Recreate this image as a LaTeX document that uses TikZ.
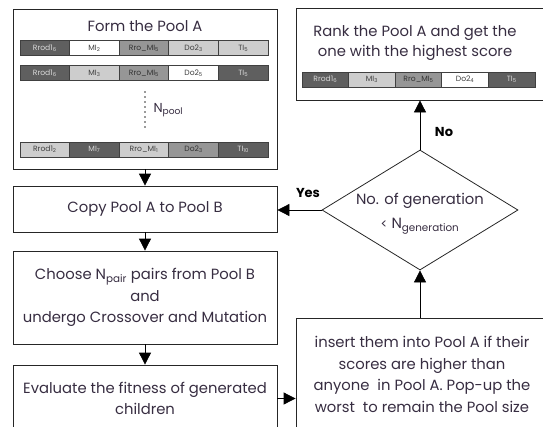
\documentclass[tikz,border=0pt]{standalone}
\usepackage{fontspec}
\setmainfont{Poppins}
\usepackage{xcolor}
\usetikzlibrary{arrows.meta,shapes.geometric}
\definecolor{ink}{RGB}{55,45,65}
\definecolor{genedark}{RGB}{95,95,95}
\definecolor{genemid}{RGB}{150,150,150}
\definecolor{genelight}{RGB}{205,205,205}
\tikzset{
	stage/.style={draw=black!85, line width=0.8pt, text=ink, align=center,
			font=\fontsize{14.8}{21.5}\selectfont, inner sep=0pt},
	gene/.style={draw=black!75, line width=0.9pt, inner sep=0pt,
			font=\fontsize{7.6}{8}\selectfont},
	flow/.style={draw=black, line width=0.8pt, -{Triangle[length=12pt,width=12pt]}},
	answer/.style={font=\fontsize{13}{15}\selectfont\bfseries}
}

\begin{document}
\begin{tikzpicture}[x=1pt,y=-1pt]
        \useasboundingbox (0,0) rectangle (543,426);

        % Boxes of the left column
        \node[stage, minimum width=264pt, minimum height=160pt] (form) at (145,89) {};
        \node[stage, minimum width=264pt, minimum height=46pt] (copy) at (145,209) {Copy Pool A to Pool B};
        \node[stage, minimum width=264pt, minimum height=93pt] (choose) at (145,297.5)
            {Choose N\textsubscript{pair} pairs from Pool B\\and\\undergo Crossover and Mutation};
        \node[stage, minimum width=264pt, minimum height=67pt] (eval) at (145,398.5)
            {Evaluate the fitness of generated\\children};

        % Boxes of the right column
        \node[stage, minimum width=264pt, minimum height=92pt] (rank) at (428,54) {};
        \node[stage, minimum width=252pt, minimum height=113pt] (insert) at (422,374.5)
            {insert them into Pool A if their\\scores are higher than\\anyone\ \ in Pool A. Pop-up the\\worst\ \ to remain the Pool size};
        \node[draw=black!85, line width=0.8pt, diamond, minimum width=196pt,
            minimum height=120pt, inner sep=0pt] (cond) at (420,210) {};

        % Texts inside the boxes
        \node[text=ink, font=\fontsize{14.8}{21.5}\selectfont] (formtxt) at (145,26) {Form the Pool A};
        \node[text=ink, align=center, font=\fontsize{14.8}{20}\selectfont] (ranktxt) at (415,43)
            {Rank the Pool A and get the\\one with the highest score};
        \node[text=ink, align=center, font=\fontsize{14.8}{24}\selectfont] (condtxt) at (420,214)
            {No. of generation\\{\fontsize{12.5}{13}\selectfont<} N\textsubscript{generation}};

        % Individuals of Pool A
        \foreach \lab/\fc/\tc [count=\i] in {Rrod1\textsubscript{6}/genedark/white!85!black,
                MI\textsubscript{2}/white/black!75, Rro\_MI\textsubscript{5}/genemid/black!80,
                Do2\textsubscript{3}/genelight/black!75, TI\textsubscript{5}/genelight/black!75} {
            \node[gene, fill=\fc, text=\tc, minimum width=49.6pt, minimum height=15pt]
                (a\i) at ({20+49.6*(\i-0.5)},48) {\lab};
        }
        \foreach \lab/\fc/\tc [count=\i] in {Rrod1\textsubscript{6}/genedark/white!85!black,
                MI\textsubscript{3}/genelight/black!75, Rro\_MI\textsubscript{5}/genemid/black!80,
                Do2\textsubscript{5}/white/black!75, TI\textsubscript{5}/genedark/white!85!black} {
            \node[gene, fill=\fc, text=\tc, minimum width=49.6pt, minimum height=15pt]
                (b\i) at ({20+49.6*(\i-0.5)},73) {\lab};
        }
        \foreach \lab/\fc/\tc [count=\i] in {Rrod1\textsubscript{2}/genelight/black!75,
                MI\textsubscript{7}/genedark/white!85!black, Rro\_MI\textsubscript{1}/genelight/black!75,
                Do2\textsubscript{3}/genemid/black!80, TI\textsubscript{10}/genedark/white!85!black} {
            \node[gene, fill=\fc, text=\tc, minimum width=49.6pt, minimum height=15pt]
                (c\i) at ({20+49.6*(\i-0.5)},149.5) {\lab};
        }

        % Pool size
        \draw[black!80, line width=1.6pt, line cap=round, dash pattern=on 0pt off 5pt] (145,92) -- (145,131);
        \node[text=ink, anchor=west, font=\fontsize{13}{15}\selectfont] (npool) at (150,110) {N\textsubscript{pool}};

        % Best individual
        \foreach \lab/\fc/\tc [count=\i] in {Rrod1\textsubscript{6}/genedark/white!85!black,
                MI\textsubscript{3}/genelight/black!75, Rro\_MI\textsubscript{5}/genemid/black!80,
                Do2\textsubscript{4}/white/black!75, TI\textsubscript{5}/genedark/white!85!black} {
            \node[gene, fill=\fc, text=\tc, minimum width=46.6pt, minimum height=15pt]
                (r\i) at ({302+46.6*(\i-0.5)},79.5) {\lab};
        }

        % Connectors
        \draw[flow] (form) -- (copy);
        \draw[flow] (copy) -- (choose);
        \draw[flow] (choose) -- (eval);
        \draw[flow] (eval.east) -- (eval.east -| insert.west);
        \draw[flow] (cond.south |- insert.north) -- (cond.south);
        \draw[flow] (cond.north) -- (cond.north |- rank.south);
        \draw[flow] (cond.west) -- (cond.west -| copy.east);

        % Answers of the test
        \node[answer] (yes) at (308,193) {Yes};
        \node[answer] (no) at (444,132) {No};

    \end{tikzpicture}
\end{document}
